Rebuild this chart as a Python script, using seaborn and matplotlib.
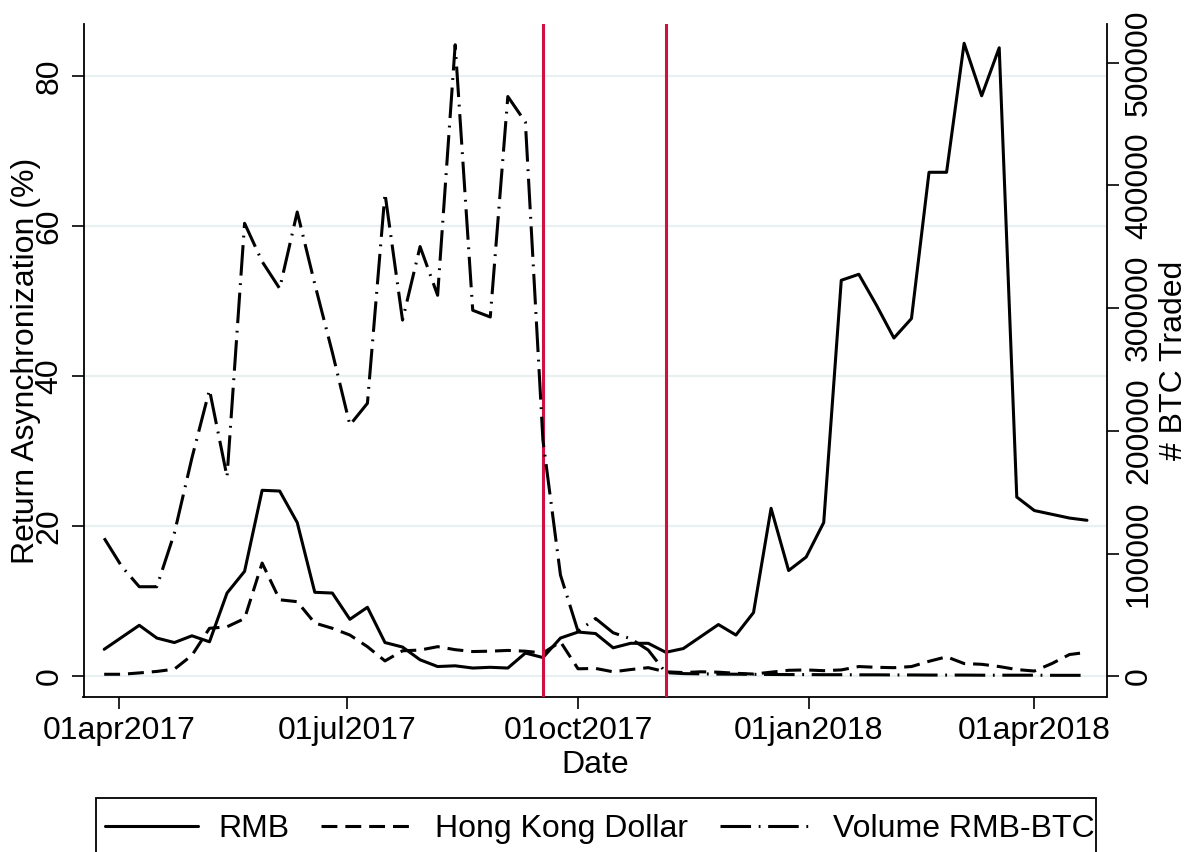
import matplotlib
matplotlib.use("Agg")
import matplotlib.pyplot as plt
import matplotlib.dates as mdates
from matplotlib.patches import Rectangle
import pandas as pd
import seaborn as sns

# Weekly observations, first week and count
week_start = "2017-03-26"
n_weeks = 57

# Return asynchronization (%) against RMB and Hong Kong Dollar
rmb = [3.6, 5.2, 6.8, 5.1, 4.5, 5.4, 4.6, 11.1, 14.0, 24.8,
       24.7, 20.5, 11.2, 11.1, 7.6, 9.2, 4.5, 3.9, 2.2, 1.3,
       1.4, 1.1, 1.2, 1.1, 3.1, 2.5, 5.1, 5.9, 5.7, 3.8,
       4.4, 4.4, 3.2, 3.7, 5.3, 6.9, 5.5, 8.5, 22.4, 14.1,
       15.9, 20.5, 52.8, 53.6, 49.5, 45.1, 47.7, 67.2, 67.2, 84.4,
       77.4, 83.8, 23.9, 22.1, 21.6, 21.1, 20.8]
hkd = [0.27, 0.27, 0.45, 0.65, 0.95, 2.8, 6.4, 6.6, 7.7, 15.1,
       10.2, 9.95, 7.1, 6.4, 5.5, 3.95, 2.05, 3.4, 3.5, 3.95,
       3.55, 3.3, 3.35, 3.45, 3.35, 3.1, 4.6, 1.0, 1.05, 0.6,
       0.9, 1.15, 0.6, 0.5, 0.6, 0.55, 0.4, 0.3, 0.55, 0.8,
       0.85, 0.75, 0.85, 1.3, 1.2, 1.15, 1.3, 2.0, 2.6, 1.7,
       1.6, 1.3, 0.9, 0.7, 1.7, 2.9, 3.2]
# Weekly RMB-BTC volume (# BTC traded)
volume = [112500, 89500, 73000, 73000, 116700, 178000, 233500, 162600, 369200, 338000,
          316000, 378400, 319700, 264000, 204800, 222500, 393600, 290300, 350200, 310500,
          514700, 298300, 292800, 472500, 451700, 192500, 82500, 36700, 47100, 35500,
          30600, 21400, 3000, 2200, 2000, 1800, 1700, 1600, 1500, 1400,
          1400, 1300, 1300, 1200, 1200, 1100, 1100, 1000, 1000, 1000,
          900, 900, 900, 900, 800, 800, 800]

event_dates = ["2017-09-17", "2017-11-05"]
x_tick_dates = ["2017-04-01", "2017-07-01", "2017-10-01", "2018-01-01", "2018-04-01"]
x_tick_labels = ["01apr2017", "01jul2017", "01oct2017", "01jan2018", "01apr2018"]
left_ticks = [0, 20, 40, 60, 80]
right_ticks = [0, 100000, 200000, 300000, 400000, 500000]

dates = pd.date_range(week_start, periods=n_weeks, freq="7D")
df = pd.DataFrame({"Date": dates, "RMB": rmb, "HKD": hkd, "Volume": volume})

sns.set_theme(style="white")
plt.rcParams["font.family"] = ["Liberation Sans", "DejaVu Sans"]
plt.rcParams["font.size"] = 23
for key in ["text.color", "axes.labelcolor", "xtick.color", "ytick.color"]:
    plt.rcParams[key] = "black"

W, H = 1190, 852
FS = 23
fig = plt.figure(figsize=(W / 100, H / 100), dpi=100)
x0, x1, y0, y1 = 83.5, 1106.5, 24, 697
ax = fig.add_axes([x0 / W, 1 - y1 / H, (x1 - x0) / W, (y1 - y0) / H])
ax2 = ax.twinx()

lw = 2.2
sns.lineplot(data=df, x="Date", y="RMB", ax=ax, color="black", lw=lw,
             label="RMB", linestyle="-", errorbar=None)
sns.lineplot(data=df, x="Date", y="HKD", ax=ax, color="black", lw=lw,
             label="Hong Kong Dollar", linestyle=(0, (5.2, 2.6)), errorbar=None)
sns.lineplot(data=df, x="Date", y="Volume", ax=ax2, color="black", lw=lw,
             label="Volume RMB-BTC", linestyle=(0, (10, 2.5, 0.6, 2.5)), errorbar=None)

for d in event_dates:
    ax.axvline(mdates.date2num(pd.Timestamp(d)), color="#cf1040", lw=2.2, zorder=5)

# Axis ranges: both y scales share the same zero line
ymin, ymax = -2.76, 86.97
scale = 6112.5
ax.set_ylim(ymin, ymax)
ax2.set_ylim(ymin * scale, ymax * scale)
ax.set_xlim(mdates.date2num(pd.Timestamp("2017-03-17 18:00")),
            mdates.date2num(pd.Timestamp("2018-04-29 19:00")))

ax.set_xticks([mdates.date2num(pd.Timestamp(t)) for t in x_tick_dates])
ax.set_xticklabels(x_tick_labels)
ax.set_yticks(left_ticks)
ax.set_yticklabels([str(v) for v in left_ticks])
ax2.set_yticks(right_ticks)
ax2.set_yticklabels([str(v) for v in right_ticks])

ax.grid(axis="y", color="#e8f0f2", lw=1.6)
ax.grid(axis="x", visible=False)
ax2.grid(False)
ax.set_axisbelow(True)

for s in ["top", "right"]:
    ax.spines[s].set_visible(False)
for s in ["top", "left", "bottom"]:
    ax2.spines[s].set_visible(False)
for a, s in [(ax, "left"), (ax, "bottom"), (ax2, "right")]:
    a.spines[s].set_color("black")
    a.spines[s].set_linewidth(1.3)

ax.tick_params(axis="x", direction="out", length=8.6, width=1.2, color="black",
               labelcolor="black", pad=5, labelsize=FS, bottom=True)
ax.tick_params(axis="y", direction="out", length=8.6, width=1.2, color="black",
               labelcolor="black", pad=5, labelsize=FS, labelrotation=90, left=True)
ax2.tick_params(axis="y", direction="out", length=8.6, width=1.2, color="black",
                labelcolor="black", pad=4, labelsize=FS, labelrotation=90, right=True)
for lab in ax.get_yticklabels() + ax2.get_yticklabels():
    lab.set_va("center")

ax.set_xlabel("Date", fontsize=FS, labelpad=3, color="black")
ax.set_ylabel("Return Asynchronization (%)", fontsize=FS, color="black")
ax2.set_ylabel("# BTC Traded", fontsize=FS, color="black")
ax.yaxis.set_label_coords(-0.0415, 0.5)
ax2.yaxis.set_label_coords(1.0515, 0.5)

h1, l1 = ax.get_legend_handles_labels()
h2, l2 = ax2.get_legend_handles_labels()
if ax.get_legend():
    ax.get_legend().remove()
if ax2.get_legend():
    ax2.get_legend().remove()
fig.legend(h1 + h2, l1 + l2, loc="center", bbox_to_anchor=(600 / W, 1 - 829 / H),
           ncol=3, frameon=False, fontsize=FS, handlelength=2.9,
           handletextpad=0.65, columnspacing=1.0, labelcolor="black")
fig.patches.append(Rectangle((96 / W, -30 / H), 1000 / W, (882 - 798) / H,
                             transform=fig.transFigure, fill=False,
                             edgecolor="black", lw=1.3))

fig.savefig("out.png", dpi=100)
